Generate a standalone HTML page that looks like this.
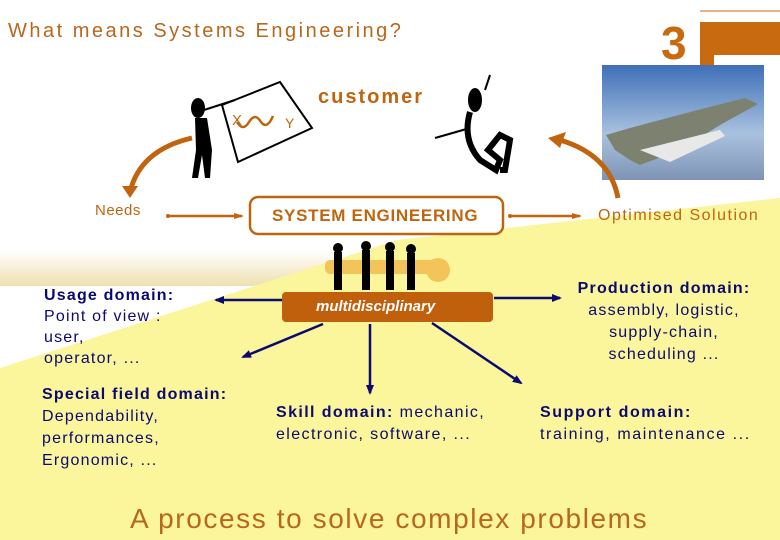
<!DOCTYPE html>
<html><head><meta charset="utf-8"><style>
body{margin:0;width:780px;height:540px;overflow:hidden;background:#fff;position:relative;font-family:"Liberation Sans",sans-serif}
.t{position:absolute;white-space:nowrap}
.n{color:#0a0a70;letter-spacing:1.2px}
.b{font-weight:bold}
</style></head><body>
<svg width="780" height="540" style="position:absolute;left:0;top:0">
<defs>
<linearGradient id="bg" x1="0" y1="0" x2="0" y2="1"><stop offset="0" stop-color="#fff"/><stop offset="1" stop-color="#efe0b0"/></linearGradient>
<linearGradient id="sky" x1="0" y1="0" x2="0" y2="1"><stop offset="0" stop-color="#3f6fb8"/><stop offset="0.6" stop-color="#a9c2df"/><stop offset="1" stop-color="#7e93b5"/></linearGradient>
<marker id="ab" markerUnits="userSpaceOnUse" markerWidth="10" markerHeight="10" refX="8" refY="5" orient="auto"><path d="M0,1 L10,5 L0,9z" fill="#0a0a70"/></marker>
<marker id="ao" markerUnits="userSpaceOnUse" markerWidth="10" markerHeight="8" refX="8" refY="4" orient="auto"><path d="M0,1 L10,4 L0,7z" fill="#c0650f"/></marker>
</defs>
<rect x="0" y="250" width="330" height="36" fill="url(#bg)"/>
<polygon points="0,368 397,240 780,198 780,540 0,540" fill="#fbf59c"/>
<polygon points="310,286 780,198 780,260" fill="#fbf59c"/>
<line x1="700" y1="11" x2="780" y2="11" stroke="#c86a10" stroke-width="1"/>
<rect x="700" y="22" width="80" height="33" fill="#c86a10"/>
<rect x="700" y="55" width="14" height="12" fill="#c86a10"/>
<rect x="602" y="65" width="162" height="115" fill="url(#sky)"/>
<path d="M606,135 L630,128 L690,112 L745,98 L758,104 L720,125 L680,150 L640,165 L630,160 L615,150 Z" fill="#7d8270"/>
<path d="M640,150 L720,130 L725,136 L670,162 Z" fill="#e8e8e8"/>
<path d="M192,138 Q140,150 130,192" fill="none" stroke="#c0650f" stroke-width="5"/>
<path d="M122,186 L138,186 L130,198 Z" fill="#c0650f"/>
<path d="M618,198 Q610,155 560,140" fill="none" stroke="#c0650f" stroke-width="5"/>
<path d="M548,138 L566,132 L560,148 Z" fill="#c0650f"/>
<line x1="168" y1="216" x2="242" y2="216" stroke="#c0650f" stroke-width="2.5" marker-end="url(#ao)"/>
<circle cx="168" cy="216" r="2" fill="#c0650f"/>
<line x1="510" y1="216" x2="580" y2="216" stroke="#c0650f" stroke-width="2.5" marker-end="url(#ao)"/>
<circle cx="510" cy="216" r="2" fill="#c0650f"/>
<rect x="250" y="197" width="253" height="37" rx="8" fill="#fff" stroke="#c0650f" stroke-width="2.5"/>
<rect x="282" y="292" width="211" height="30" rx="4" fill="#c0600c"/>
<line x1="282" y1="300" x2="216" y2="300" stroke="#0a0a70" stroke-width="2.5" marker-end="url(#ab)"/>
<line x1="494" y1="298" x2="560" y2="298" stroke="#0a0a70" stroke-width="2.5" marker-end="url(#ab)"/>
<line x1="323" y1="324" x2="243" y2="357" stroke="#0a0a70" stroke-width="2.5" marker-end="url(#ab)"/>
<line x1="370" y1="324" x2="370" y2="393" stroke="#0a0a70" stroke-width="2.5" marker-end="url(#ab)"/>
<line x1="432" y1="323" x2="521" y2="383" stroke="#0a0a70" stroke-width="2.5" marker-end="url(#ab)"/>
<path d="M222,105 L280,82 L312,128 L238,162 Z" fill="#fff" stroke="#000" stroke-width="2"/>
<path d="M237,122 q6,10 12,0 q6,-10 12,0 q6,8 12,-6" fill="none" stroke="#c0650f" stroke-width="2.5"/>
<text x="232" y="125" fill="#c0650f" font-size="15" font-family="Liberation Sans">X</text>
<text x="285" y="128" fill="#c0650f" font-size="14" font-family="Liberation Sans">Y</text>
<ellipse cx="198" cy="108" rx="7" ry="10" fill="#000"/>
<path d="M195,118 L207,118 L212,150 L210,178 L205,178 L202,155 L198,178 L192,178 L196,150 Z" fill="#000"/>
<line x1="204" y1="110" x2="235" y2="100" stroke="#000" stroke-width="2"/>
<ellipse cx="475" cy="100" rx="7" ry="12" fill="#000"/>
<path d="M470,112 Q462,140 480,160 L496,170 L500,160 L488,150 L500,135 L510,140 L505,170 L500,170" fill="none" stroke="#000" stroke-width="6"/>
<line x1="485" y1="90" x2="490" y2="75" stroke="#000" stroke-width="2"/>
<line x1="470" y1="128" x2="435" y2="138" stroke="#000" stroke-width="2"/>
<rect x="325" y="260" width="110" height="14" rx="5" fill="#f3c45a"/>
<circle cx="438" cy="270" r="12" fill="#f3c45a"/>
<g fill="#000">
<circle cx="338" cy="248" r="5"/><rect x="334" y="252" width="8" height="38"/>
<circle cx="366" cy="246" r="5"/><rect x="362" y="250" width="8" height="40"/>
<circle cx="390" cy="247" r="5"/><rect x="386" y="251" width="8" height="39"/>
<circle cx="411" cy="249" r="5"/><rect x="407" y="253" width="8" height="37"/>
</g>
</svg>
<div class="t" style="left:8px;top:20px;font-size:20px;color:#b8671c;letter-spacing:2.5px">What means Systems Engineering?</div>
<div class="t b" style="left:661px;top:16px;font-size:46px;color:#c86a10">3</div>
<div class="t b" style="left:318px;top:86px;font-size:20px;color:#c0650f;letter-spacing:2px">customer</div>
<div class="t" style="left:95px;top:202px;font-size:15px;color:#c0650f;letter-spacing:0.5px">Needs</div>
<div class="t b" style="left:272px;top:206px;font-size:17px;color:#c0650f;letter-spacing:0.7px">SYSTEM ENGINEERING</div>
<div class="t" style="left:598px;top:207px;font-size:16px;color:#c0650f;letter-spacing:1.5px">Optimised Solution</div>
<div class="t b" style="left:316px;top:298px;font-size:15px;color:#fff;font-style:italic">multidisciplinary</div>
<div class="t n" style="left:44px;top:285px;font-size:16px;line-height:21px"><b>Usage domain:</b><br>Point of view :<br>user,<br>operator, ...</div>
<div class="t n" style="left:42px;top:384px;font-size:16px;line-height:22px"><b>Special field domain:</b><br>Dependability,<br>performances,<br>Ergonomic, ...</div>
<div class="t n" style="left:276px;top:402px;font-size:16px;line-height:22px;letter-spacing:1.4px"><b>Skill domain:</b> mechanic,<br>electronic, software, ...</div>
<div class="t n" style="left:540px;top:402px;font-size:16px;line-height:22px;letter-spacing:1.6px"><b>Support domain:</b><br>training, maintenance ...</div>
<div class="t n" style="left:564px;top:278px;width:200px;text-align:center;font-size:16px;line-height:22px"><b>Production domain:</b><br>assembly, logistic,<br>supply-chain,<br>scheduling ...</div>
<div class="t" style="left:130px;top:503px;font-size:28px;color:#b8671c;letter-spacing:1.6px">A process to solve complex problems</div>
</body></html>
